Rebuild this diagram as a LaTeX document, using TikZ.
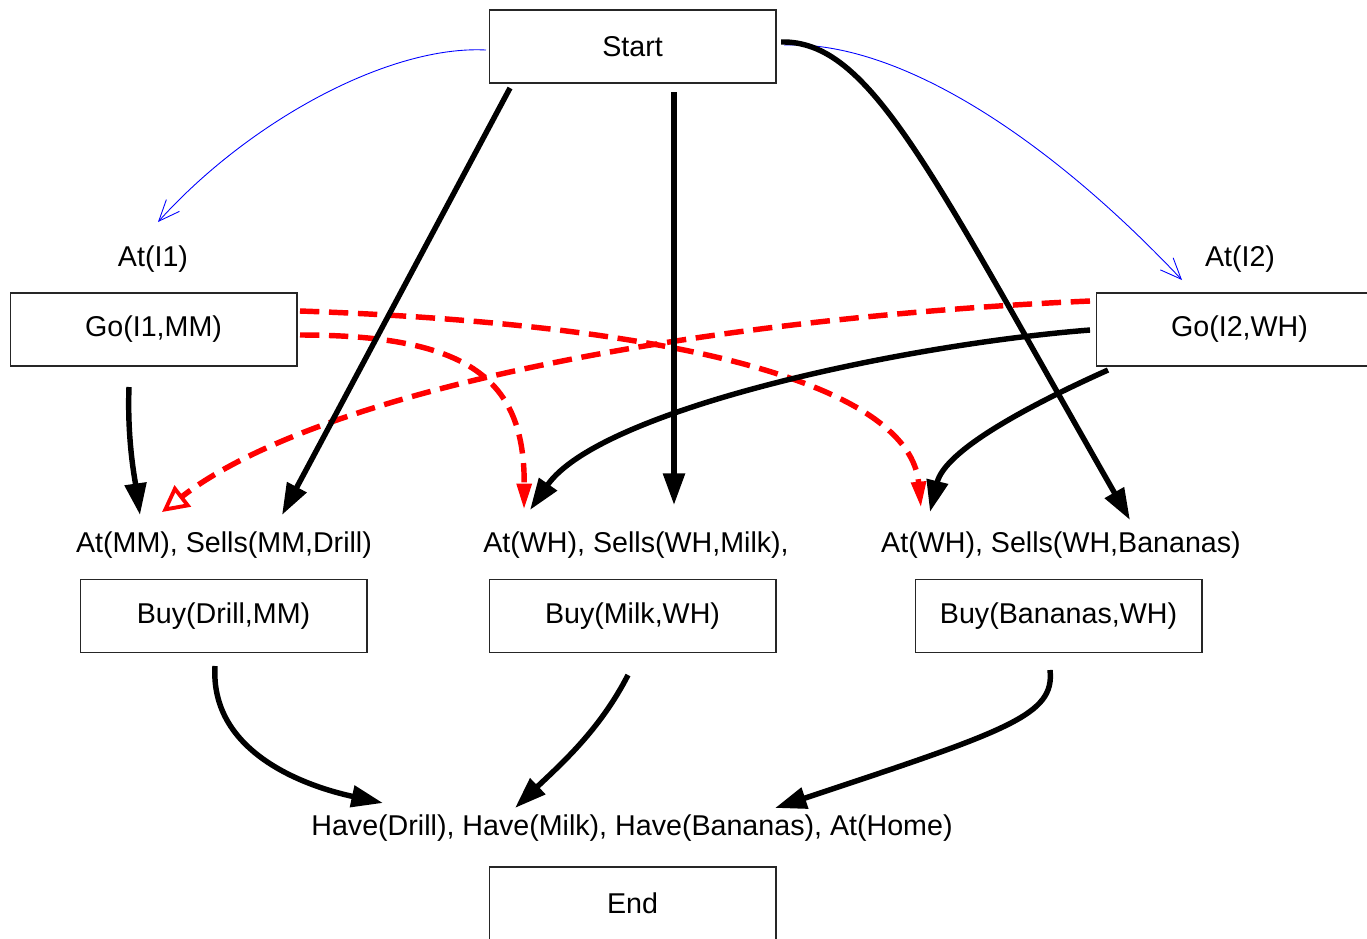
\documentclass[tikz,border=0pt]{standalone}
\usepackage{fontspec}
\setmainfont{Liberation Sans}
\usetikzlibrary{arrows.meta}
\begin{document}
\begin{tikzpicture}[x=0.02cm,y=-0.02cm,
  font=\fontsize{16.3}{19}\selectfont,
  actbox/.style={draw=black!85,line width=0.6pt,minimum width=5.74cm,minimum height=1.46cm,inner sep=0pt},
  cond/.style={inner sep=0pt},
  causal/.style={line width=3.1pt,-{Triangle[length=18pt,width=12pt]}},
  ordering/.style={blue,line width=0.5pt,-{Straight Barb[length=12pt,width=10pt,line width=0.5pt]}},
  threat/.style={red,line width=3.1pt,dash pattern=on 11pt off 5.5pt,-{Triangle[length=15pt,width=8pt]}},
  threatwide/.style={threat,-{Triangle[open,length=15pt,width=15pt,line width=2.2pt]}}]
\useasboundingbox (0,0) rectangle (1367,938);

% actions
\node[actbox] (start) at (632.5,46.5) {Start};
\node[actbox] (go1) at (153.5,329.5) {Go(I1,MM)};
\node[actbox] (go2) at (1239.5,329.5) {Go(I2,WH)};
\node[actbox] (buyd) at (223.5,616) {Buy(Drill,MM)};
\node[actbox] (buym) at (632.5,616) {Buy(Milk,WH)};
\node[actbox] (buyb) at (1058.5,616) {Buy(Bananas,WH)};
\node[actbox] (end) at (632.5,903.5) {End};

% preconditions
\node[cond] (ati1) at (153,259) {At(I1)};
\node[cond] (ati2) at (1240,259) {At(I2)};
\node[cond] (pred) at (224,545) {At(MM), Sells(MM,Drill)};
\node[cond] (prem) at (636,545) {At(WH), Sells(WH,Milk),};
\node[cond] (preb) at (1061,545) {At(WH), Sells(WH,Bananas)};
\node[cond] (goal) at (632,828) {Have(Drill), Have(Milk), Have(Bananas), At(Home)};

% anchor points of the links
\coordinate (s1) at (486,50);
\coordinate (s2) at (784,45);
\coordinate (s3) at (781,42);
\coordinate (s4) at (510,88);
\coordinate (s5) at (674,92);
\coordinate (g1a) at (129,387);
\coordinate (g1b) at (300,311);
\coordinate (g1c) at (300,335);
\coordinate (g2a) at (1090,330);
\coordinate (g2b) at (1108,370);
\coordinate (g2c) at (1090,301);
\coordinate (bd) at (215,666);
\coordinate (bm) at (628,675);
\coordinate (bb) at (1050,670);
\coordinate (ti1) at (158,222);
\coordinate (ti2) at (1182,280);
\coordinate (tdA) at (140,515);
\coordinate (tdB) at (282,515);
\coordinate (tdC) at (162,512);
\coordinate (tmA) at (530,510);
\coordinate (tmB) at (674,505);
\coordinate (tmC) at (524,510);
\coordinate (tbA) at (930,512);
\coordinate (tbB) at (1130,520);
\coordinate (tbC) at (921,508);
\coordinate (th1) at (383,803);
\coordinate (th2) at (515,808);
\coordinate (th3) at (775,808);

% ordering links
\draw[ordering] (s1) .. controls (390,45) and (250,120) .. (ti1);
\draw[ordering] (s2) .. controls (900,40) and (1050,140) .. (ti2);

% threats
\draw[threat] (g1b) .. controls (700,325) and (910,390) .. (tbC);
\draw[threat] (g1c) .. controls (470,335) and (525,380) .. (tmC);
\draw[threatwide] (g2c) .. controls (700,318) and (320,390) .. (tdC);

% causal links
\draw[causal] (s3) .. controls (870,40) and (930,170) .. (tbB);
\draw[causal] (s4) -- (tdB);
\draw[causal] (s5) -- (tmB);
\draw[causal] (g1a) .. controls (127,440) and (135,480) .. (tdA);
\draw[causal] (g2a) .. controls (900,345) and (600,410) .. (tmA);
\draw[causal] (g2b) .. controls (1030,405) and (945,450) .. (tbA);
\draw[causal] (bd) .. controls (210,750) and (300,785) .. (th1);
\draw[causal] (bm) .. controls (600,730) and (560,765) .. (th2);
\draw[causal] (bb) .. controls (1055,715) and (1010,730) .. (th3);
\end{tikzpicture}
\end{document}
